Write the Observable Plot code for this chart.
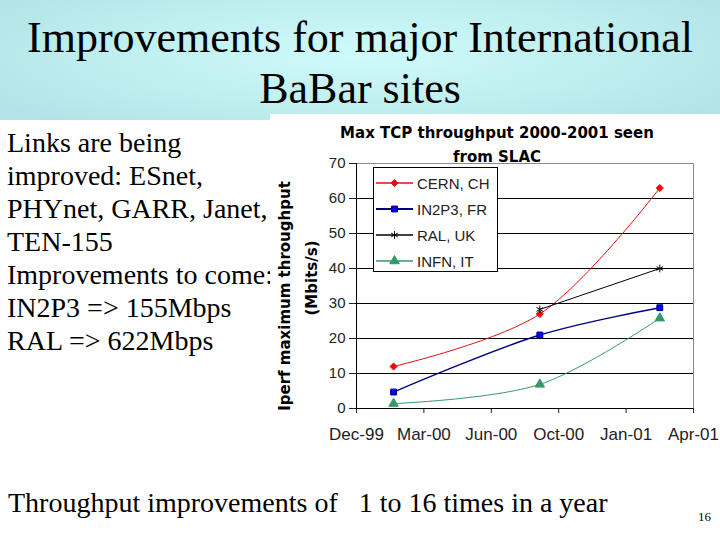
<!DOCTYPE html>
<html><head><meta charset="utf-8">
<script src="https://cdn.jsdelivr.net/npm/d3@7"></script>
<script src="https://cdn.jsdelivr.net/npm/@observablehq/plot@0.6"></script>
<style>
html,body{margin:0;padding:0;background:#fff;}
#slide{position:relative;width:720px;height:540px;overflow:hidden;background:#fff;font-family:"Liberation Serif","Times New Roman",serif;color:#000;}
#header{position:absolute;left:0;top:0;width:720px;height:120px;background:radial-gradient(ellipse 60% 80% at 50% 45%, #cefafa 0%, #c0eff0 55%, #b3e3e6 100%);}
#title{position:absolute;left:0;top:12px;width:720px;text-align:center;font-size:44px;line-height:51px;}
#chart{position:absolute;left:270px;top:114px;width:450px;height:336px;background:#fff;}
#ctitle{position:absolute;left:320px;top:121px;width:354px;text-align:center;font-family:"DejaVu Sans",sans-serif;font-weight:bold;font-size:15px;line-height:24px;}
#legend{position:absolute;left:373px;top:167px;width:125px;height:105px;box-sizing:border-box;border:1px solid #000;background:#fff;padding-top:2px;}
.lrow{height:26px;display:flex;align-items:center;font-family:"Liberation Sans",Arial,sans-serif;font-size:15px;color:#222;}
.lrow svg{margin-left:2px;margin-right:4px;}
#left{position:absolute;left:7px;top:126px;font-size:28px;line-height:33px;white-space:pre;}
#bottom{position:absolute;left:8px;top:486px;font-size:28px;line-height:33px;white-space:pre;}
#page{position:absolute;left:698px;top:509px;font-size:13px;}
</style></head>
<body>
<div id="slide">
  <div id="header"></div>
  <div id="title">Improvements for major International<br>BaBar sites</div>
  <div id="left"></div>
  <div id="chart"></div>
  <div id="ctitle">Max TCP throughput 2000-2001 seen<br>from SLAC</div>
  <div id="legend"></div>
  <div id="bottom">Throughput improvements of   1 to 16 times in a year</div>
  <div id="page">16</div>
</div>
<script>
// ---- data ----
const dates = ["2000-02-03", "2000-09-07", "2001-03-04"];
const seriesNames = ["CERN, CH", "IN2P3, FR", "RAL, UK", "INFN, IT"];
const cern  = [12, 27, 63];
const in2p3 = [4.7, 21, 28.8];
const ral   = [null, 28.3, 40];
const infn  = [1.4, 6.9, 25.8];
const tickDates  = ["1999-12-10", "2000-03-19", "2000-06-27", "2000-10-05", "2001-01-13", "2001-04-23"];
const tickLabels = ["Dec-99", "Mar-00", "Jun-00", "Oct-00", "Jan-01", "Apr-01"];
const yTicks = [0, 10, 20, 30, 40, 50, 60, 70];
const yGrid  = [10, 20, 30, 40, 50, 60];
const leftText = ["Links are being", "improved: ESnet,", "PHYnet, GARR, Janet,", "TEN-155", "Improvements to come:", "IN2P3 => 155Mbps", "RAL => 622Mbps"];

// ---- styles ----
const styles = {
  "CERN, CH":  {line: "#e01010", fill: "#ff0000", stroke: "#e01010", symbol: "diamond2", r: 3.2, width: 1},
  "IN2P3, FR": {line: "#000080", fill: "#0000ff", stroke: "#000080", symbol: "square", r: 3.3, width: 1.4},
  "RAL, UK":   {line: "#000000", fill: "none", stroke: "#000000", symbol: "asterisk", r: 3.6, width: 1},
  "INFN, IT":  {line: "#339966", fill: "#339966", stroke: "#339966", symbol: "triangle", r: 3.5, width: 1}
};

document.getElementById("left").textContent = leftText.join("\n");

const parse = d3.utcParse("%Y-%m-%d");
const values = [cern, in2p3, ral, infn];
const rows = [];
seriesNames.forEach((s, k) => dates.forEach((d, i) => {
  if (values[k][i] != null) rows.push({series: s, date: parse(d), value: values[k][i]});
}));
const ticks = tickDates.map(parse);
const labelMap = new Map(ticks.map((t, i) => [+t, tickLabels[i]]));

const marks = [
  Plot.ruleY(yGrid, {stroke: "#000", strokeWidth: 1}),
  Plot.ruleY([70], {stroke: "#8a8a8a"}),
  Plot.ruleX([ticks[ticks.length - 1]], {stroke: "#8a8a8a"}),
  Plot.axisX({ticks: ticks, tickFormat: d => labelMap.get(+d), tickSize: 5, tickPadding: 14, fontSize: 17, label: null, fontFamily: "Liberation Sans, Arial, sans-serif"}),
  Plot.axisY({ticks: yTicks, tickSize: 7, tickPadding: 4, fontSize: 15, label: null, fontFamily: "Liberation Sans, Arial, sans-serif"}),
  Plot.ruleX([ticks[0]], {stroke: "#000"}),
  Plot.ruleY([0], {stroke: "#000"}),
  Plot.text(["Iperf maximum throughput"], {frameAnchor: "left", rotate: -90, dx: -71, dy: 10, textAnchor: "middle", lineAnchor: "middle", fontWeight: "bold", fontSize: 15, fontFamily: "DejaVu Sans, sans-serif", fill: "#000"}),
  Plot.text(["(Mbits/s)"], {frameAnchor: "left", rotate: -90, dx: -44, dy: -8, textAnchor: "middle", lineAnchor: "middle", fontWeight: "bold", fontSize: 15, fontFamily: "DejaVu Sans, sans-serif", fill: "#000"})
];
for (const s of seriesNames) {
  const st = styles[s];
  const data = rows.filter(r => r.series === s);
  marks.push(Plot.line(data, {x: "date", y: "value", stroke: st.line, strokeWidth: st.width, curve: "catmull-rom"}));
  marks.push(Plot.dot(data, {x: "date", y: "value", symbol: st.symbol, r: st.r, fill: st.fill, stroke: st.stroke, strokeWidth: 1}));
}

const chart = Plot.plot({
  width: 450, height: 336,
  marginLeft: 86, marginRight: 27, marginTop: 49, marginBottom: 42,
  style: {background: "#fff", color: "#222", overflow: "visible"},
  x: {type: "utc", domain: [ticks[0], ticks[ticks.length - 1]]},
  y: {domain: [0, 70]},
  marks
});
document.getElementById("chart").appendChild(chart);

// legend
const symMap = {diamond2: d3.symbolDiamond2, square: d3.symbolSquare, asterisk: d3.symbolAsterisk, triangle: d3.symbolTriangle};
const leg = d3.select("#legend");
for (const s of seriesNames) {
  const st = styles[s];
  const row = leg.append("div").attr("class", "lrow");
  const svg = row.append("svg").attr("width", 37).attr("height", 20);
  svg.append("line").attr("x1", 0).attr("x2", 37).attr("y1", 10).attr("y2", 10).attr("stroke", st.line).attr("stroke-width", st.width + 0.4);
  svg.append("path").attr("transform", "translate(18.5,10)")
    .attr("d", d3.symbol(symMap[st.symbol], Math.PI * st.r * st.r)())
    .attr("fill", st.fill).attr("stroke", st.stroke);
  row.append("span").text(s);
}
</script>
</body></html>
